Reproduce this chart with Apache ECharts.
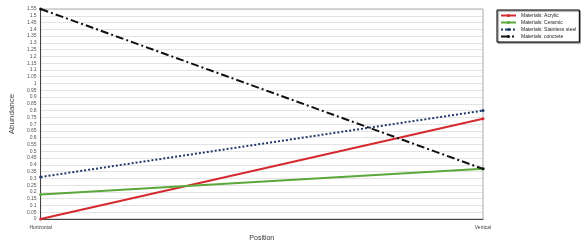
<!DOCTYPE html>
<html>
<head>
<meta charset="utf-8">
<script src="https://cdn.jsdelivr.net/npm/echarts@6/dist/echarts.min.js"></script>
<style>html,body{margin:0;padding:0;background:#fff;}#c{width:581px;height:250px;}</style>
</head>
<body>
<div id="c"></div>
<script>
const categories = ['Horizontal', 'Vertical'];
const seriesNames = ['Materials: Acrylic', 'Materials: Ceramic', 'Materials: Stainless steel', 'Materials: concrete'];
const acrylic = [0, 0.74];
const ceramic = [0.18, 0.37];
const stainless = [0.31, 0.80];
const concrete = [1.55, 0.37];
const yMin = 0, yMax = 1.55, yStep = 0.05;

const chart = echarts.init(document.getElementById('c'), null, {renderer: 'canvas'});
function mk(name, data, color, type, width) {
  return {
    name: name, type: 'line', data: data,
    symbol: 'circle', symbolSize: 3,
    lineStyle: {color: color, width: width, type: type},
    itemStyle: {color: color},
    animation: false
  };
}
chart.setOption({
  backgroundColor: '#fff',
  animation: false,
  grid: {left: 27, right: 98, top: 9, bottom: 31, show: true, borderColor: '#aaa', borderWidth: 1},
  legend: {
    orient: 'vertical', left: 497, top: 10, width: 77,
    backgroundColor: '#fff', borderColor: '#000', borderWidth: 1,
    padding: [3, 3, 3, 3], itemGap: 2, itemWidth: 15, itemHeight: 4,
    textStyle: {fontSize: 5, color: '#222', fontFamily: 'Liberation Sans'},
    shadowColor: 'rgba(0,0,0,0.6)', shadowOffsetX: 1, shadowOffsetY: 1, shadowBlur: 1,
    data: seriesNames
  },
  xAxis: {
    type: 'category', data: categories, boundaryGap: false,
    name: 'Position', nameLocation: 'middle', nameGap: 14,
    nameTextStyle: {fontSize: 7, color: '#333', fontFamily: 'Liberation Sans'},
    axisLine: {lineStyle: {color: '#444'}},
    axisTick: {show: false},
    axisLabel: {fontSize: 5, color: '#444', margin: 6, fontFamily: 'Liberation Sans'},
    splitLine: {show: false}
  },
  yAxis: {
    type: 'value', min: yMin, max: yMax, interval: yStep,
    name: 'Abundance', nameLocation: 'middle', nameGap: 20,
    nameTextStyle: {fontSize: 8, color: '#444', fontFamily: 'Liberation Sans'},
    axisLine: {show: true, lineStyle: {color: '#444'}},
    axisTick: {show: false},
    axisLabel: {fontSize: 5, color: '#555', margin: 4, fontFamily: 'Liberation Sans',
      formatter: v => String(+v.toFixed(2))},
    splitLine: {show: true, lineStyle: {color: '#c8c8c8', type: [1, 1], width: 1}}
  },
  series: [
    mk(seriesNames[0], acrylic, '#d42a2f', 'solid', 2),
    mk(seriesNames[1], ceramic, '#5aa83a', 'solid', 2),
    mk(seriesNames[2], stainless, '#1f3a6a', [2, 2], 2),
    mk(seriesNames[3], concrete, '#111', [8, 3, 2, 3], 2)
  ]
});
</script>
</body>
</html>
